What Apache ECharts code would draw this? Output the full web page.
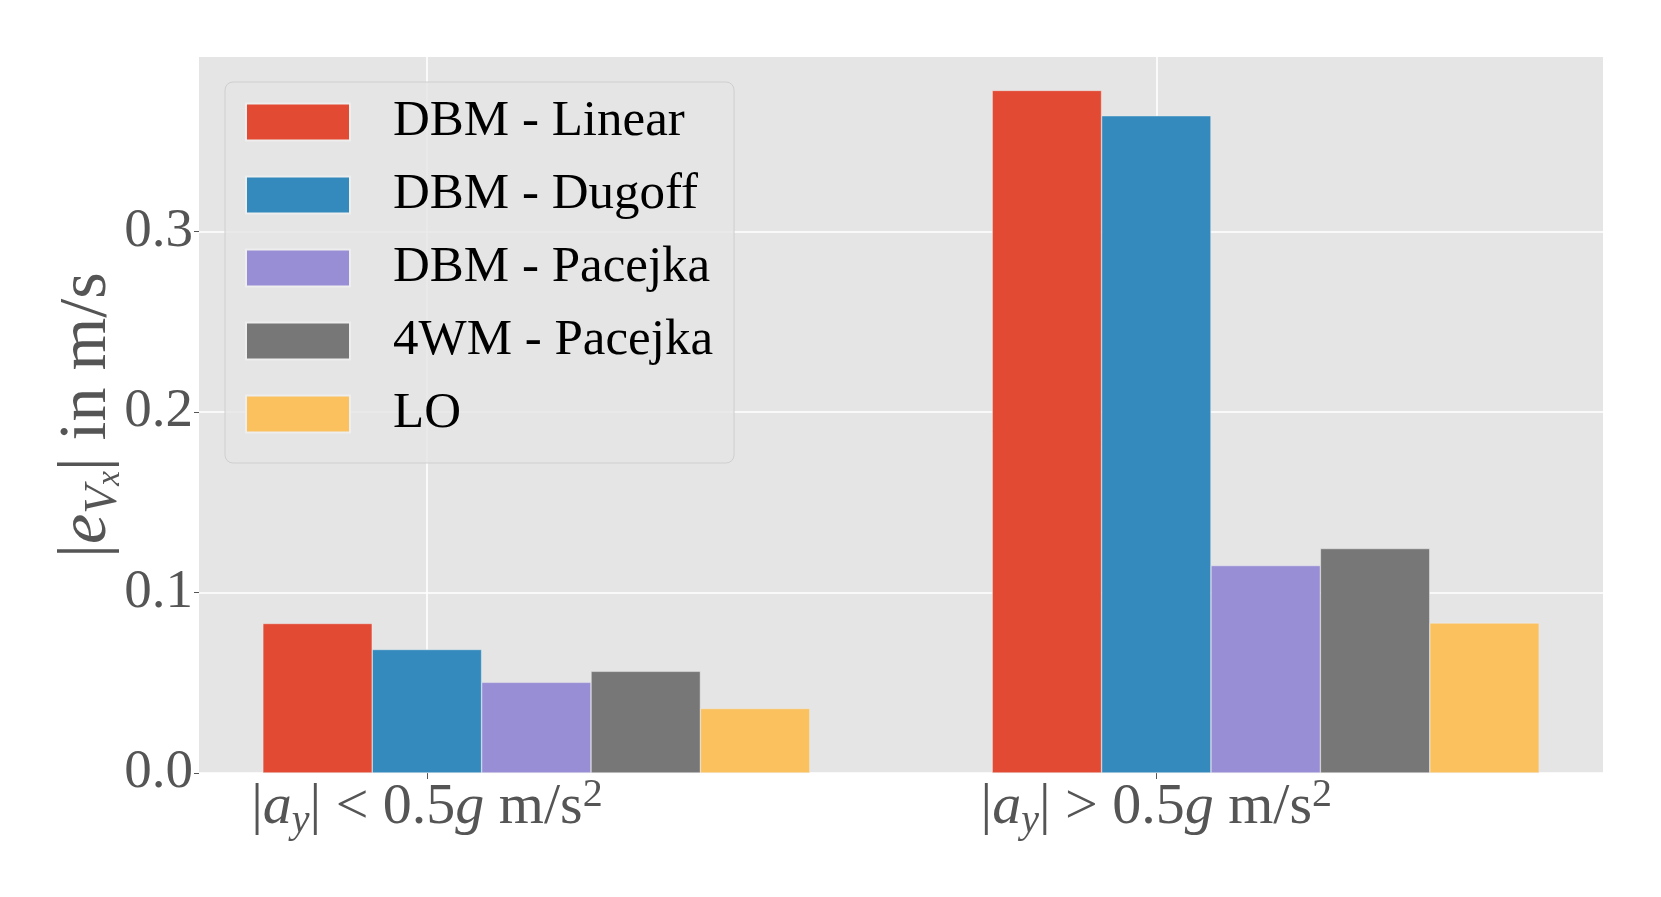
<!DOCTYPE html>
<html><head><meta charset="utf-8">
<script src="https://cdn.jsdelivr.net/npm/echarts@6/dist/echarts.min.js"></script>
<style>html,body{margin:0;padding:0;background:#fff}#c{width:1661px;height:897px}</style>
</head><body><div id="c"></div>
<script>
// ---- data ----
const groupPositions = [0, 1];
const xTickLabels = [
  '{m||}{i|a}{s|y}{m|| < 0.5}{i|g}{m| m/s}{p|2}',
  '{m||}{i|a}{s|y}{m|| > 0.5}{i|g}{m| m/s}{p|2}'
];
const yTicks = [0, 0.1, 0.2, 0.3];
const seriesNames = ['DBM - Linear', 'DBM - Dugoff', 'DBM - Pacejka', '4WM - Pacejka', 'LO'];
const dbmLinear   = [0.0828, 0.378];
const dbmDugoff   = [0.0684, 0.364];
const dbmPacejka  = [0.0502, 0.1149];
const wm4Pacejka  = [0.0563, 0.1243];
const lo          = [0.0357, 0.0831];
const seriesValues = [dbmLinear, dbmDugoff, dbmPacejka, wm4Pacejka, lo];
const colors = ['#E24A33', '#348ABD', '#988ED5', '#777777', '#FBC15E'];

// ---- layout ----
const W = 1661, H = 897;
const grid = {left: 199, right: 58, top: 57, bottom: 124};
const xMin = -0.3125, xMax = 1.6125, yMax = 0.3965;
const barFrac = 0.15;
const barPx = barFrac * (W - grid.left - grid.right) / (xMax - xMin);
const FONT = 'Liberation Serif';
const TXT = '#555555';

const chart = echarts.init(document.getElementById('c'), null, {renderer: 'canvas'});
const series = seriesNames.map((name, si) => ({
  name,
  type: 'bar',
  barWidth: barPx,
  barGap: '-100%',
  itemStyle: {color: colors[si], borderColor: '#eeeeee', borderWidth: 0.5},
  data: seriesValues[si].map((v, gi) => [groupPositions[gi] + (si - 1) * barFrac, v])
}));

const tickRich = {
  m: {fontFamily: FONT, fontSize: 58, color: TXT, lineHeight: 66},
  i: {fontFamily: FONT, fontSize: 58, color: TXT, fontStyle: 'italic', lineHeight: 66},
  s: {fontFamily: FONT, fontSize: 40, color: TXT, fontStyle: 'italic', verticalAlign: 'bottom', lineHeight: 40},
  p: {fontFamily: FONT, fontSize: 40, color: TXT, verticalAlign: 'top', lineHeight: 40}
};
const nameRich = {
  m: {fontFamily: FONT, fontSize: 68, color: TXT, lineHeight: 80},
  i: {fontFamily: FONT, fontSize: 68, color: TXT, fontStyle: 'italic', lineHeight: 80},
  s: {fontFamily: FONT, fontSize: 46, color: TXT, fontStyle: 'italic', verticalAlign: 'bottom', lineHeight: 50},
  ss: {fontFamily: FONT, fontSize: 33, color: TXT, fontStyle: 'italic', verticalAlign: 'bottom', lineHeight: 26}
};

chart.setOption({
  animation: false,
  backgroundColor: '#ffffff',
  grid: Object.assign({backgroundColor: '#E5E5E5', show: true, borderWidth: 0}, grid),
  legend: {
    orient: 'vertical', left: 225, top: 82,
    icon: 'rect', itemWidth: 104, itemHeight: 37, itemGap: 13,
    padding: [10, 21, 19, 20],
    backgroundColor: 'rgba(229,229,229,0.8)', borderColor: '#cfcfcf', borderWidth: 1, borderRadius: 8,
    textStyle: {fontFamily: FONT, fontSize: 51, color: '#000', lineHeight: 56, padding: [4, 0, 0, 38]},
    data: seriesNames
  },
  xAxis: {
    type: 'value', min: xMin, max: xMax,
    axisLine: {show: false, onZero: false},
    axisTick: {show: true, customValues: groupPositions, length: 6, lineStyle: {color: TXT}},
    axisLabel: {customValues: groupPositions, margin: 2,
      formatter: v => xTickLabels[groupPositions.indexOf(Math.round(v))], rich: tickRich},
    splitLine: {show: true, lineStyle: {color: '#ffffff', width: 1.6}}
  },
  yAxis: {
    type: 'value', min: 0, max: yMax,
    axisLine: {show: false, onZero: false},
    axisTick: {show: true, customValues: yTicks, length: 5, lineStyle: {color: TXT}},
    axisLabel: {customValues: yTicks, margin: 6, formatter: v => v.toFixed(1),
      fontFamily: FONT, fontSize: 55, color: TXT},
    splitLine: {show: true, lineStyle: {color: '#ffffff', width: 1.6}},
    name: '{m||}{i|e}{s|V}{ss|x}{m|| in m/s}',
    nameLocation: 'middle', nameGap: 72, nameMoveOverlap: false,
    nameTextStyle: {rich: nameRich}
  },
  series
});
</script></body></html>
